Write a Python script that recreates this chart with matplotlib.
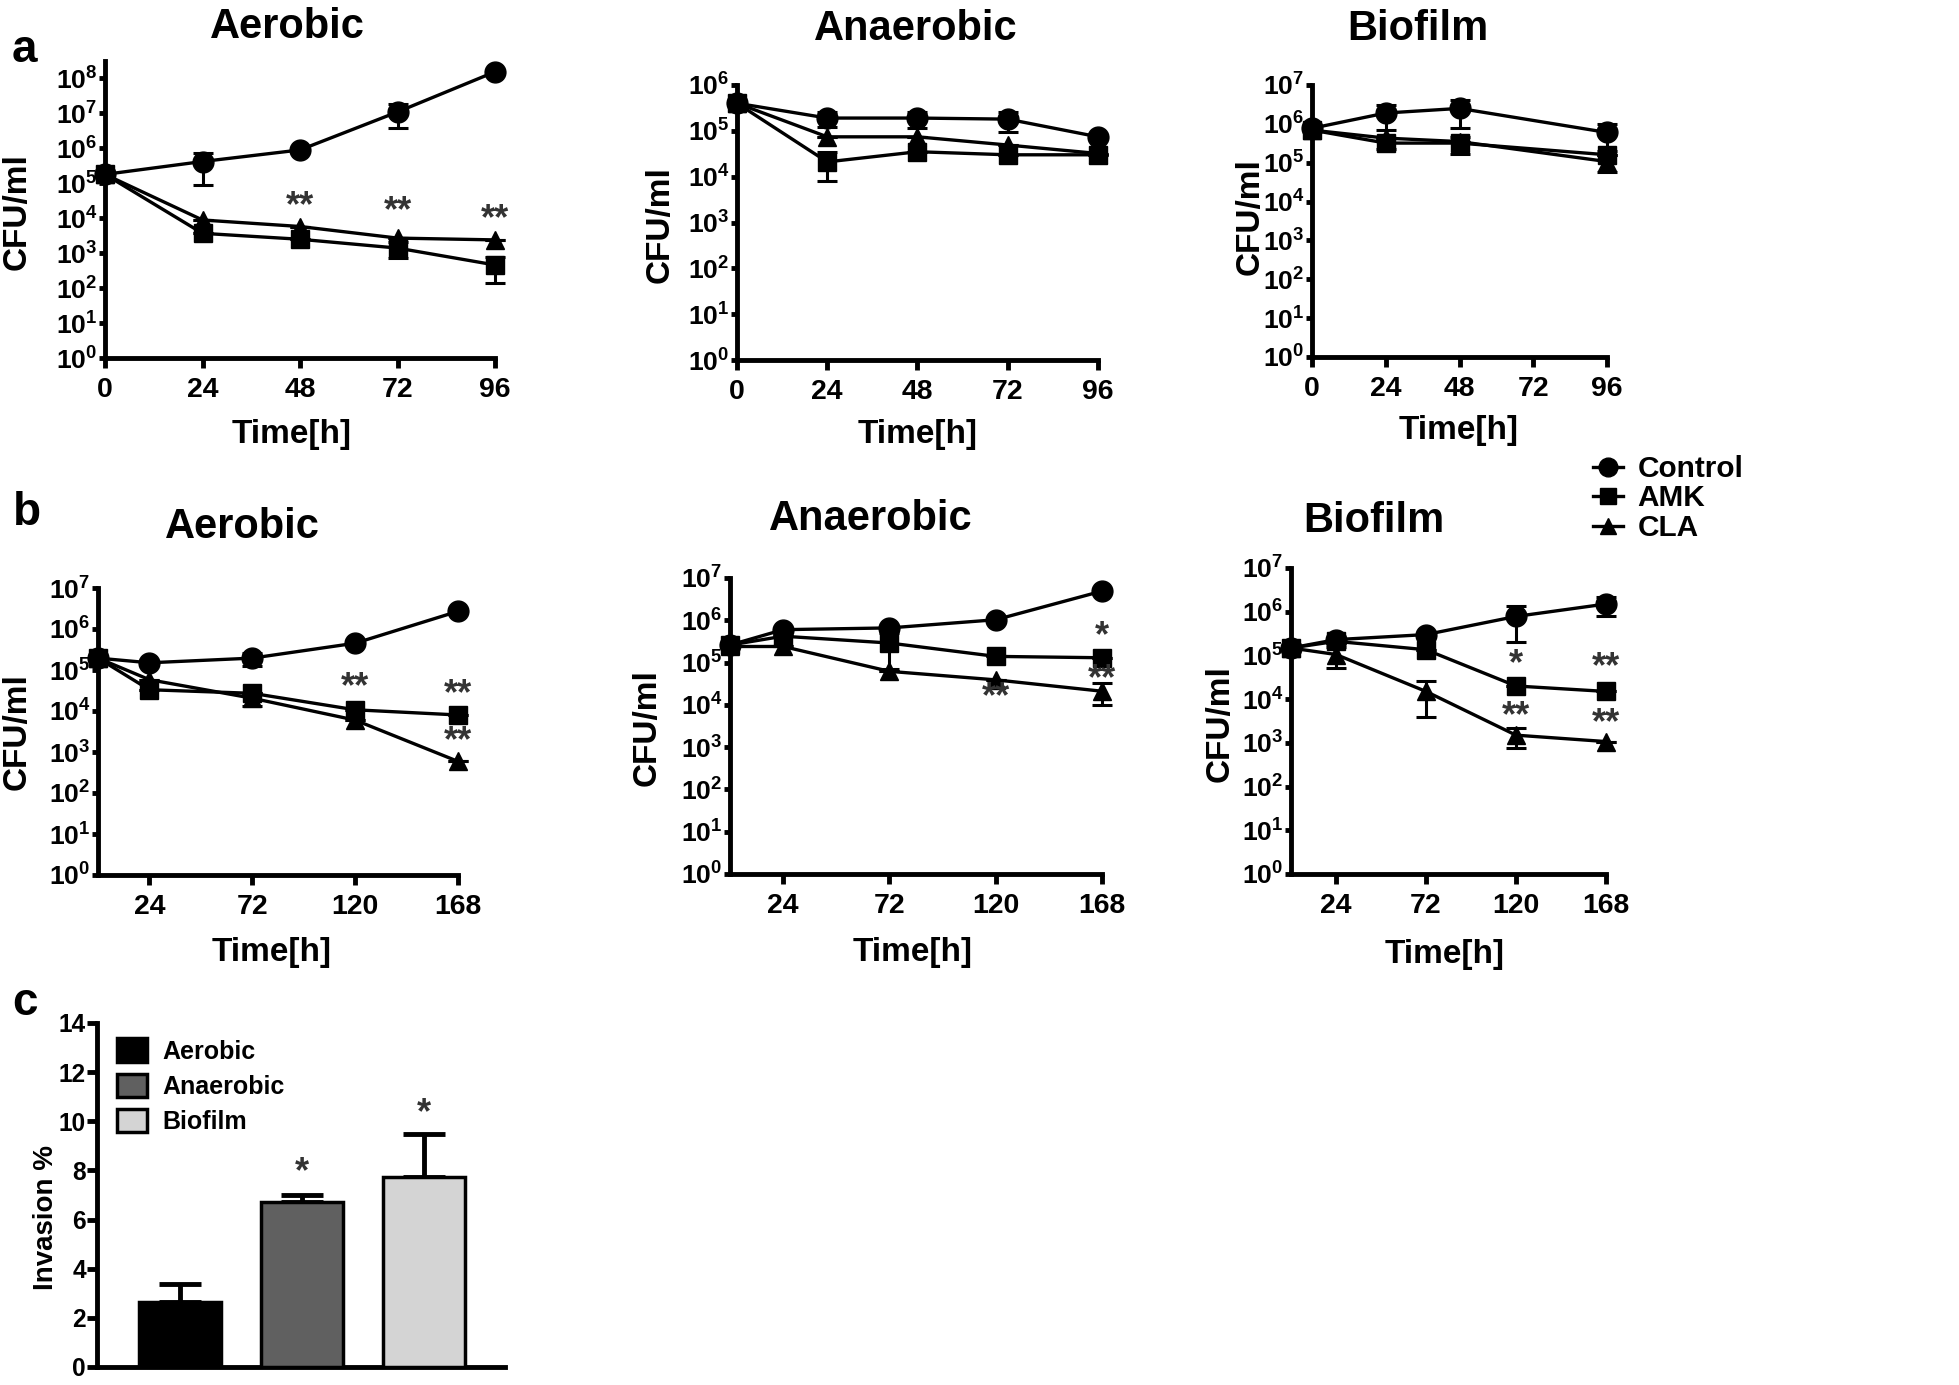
import numpy as np
import matplotlib
matplotlib.use('Agg')
import matplotlib.pyplot as plt
from matplotlib import font_manager
from matplotlib.lines import Line2D

W, H = 1959, 1385
installed = {f.name for f in font_manager.fontManager.ttflist}
HAVE_NARROW = 'Liberation Sans Narrow' in installed
REG = ['Liberation Sans', 'DejaVu Sans']
NARROW = ['Liberation Sans Narrow', 'Liberation Sans', 'DejaVu Sans']
narrow_name = 'Liberation Sans Narrow' if HAVE_NARROW else 'Liberation Sans'
shrink = 1.0 if HAVE_NARROW else 0.93

plt.rcParams['font.family'] = REG
plt.rcParams['font.weight'] = 'bold'
plt.rcParams['axes.labelweight'] = 'bold'
plt.rcParams['mathtext.fontset'] = 'custom'
plt.rcParams['mathtext.rm'] = narrow_name + ':bold'
plt.rcParams['mathtext.bf'] = narrow_name + ':bold'
plt.rcParams['mathtext.it'] = narrow_name + ':bold'
plt.rcParams['mathtext.default'] = 'rm'

# ---------------- data ----------------
series = ['Control', 'AMK', 'CLA']
markers = ['o', 's', '^']
msizes = [15, 13, 13]

time_a = [0, 24, 48, 72, 96]
time_a_bio = [0, 24, 48, 96]
time_b = [0, 24, 72, 120, 168]

# a - Aerobic (CFU/ml mean, SD)
a_aer_ctrl = [1.8e5, 4.2e5, 9.0e5, 1.1e7, 1.55e8]
a_aer_ctrl_sd = [0, 3.3e5, 0, 7.1e6, 0]
a_aer_amk = [1.8e5, 3.7e3, 2.5e3, 1.4e3, 4.6e2]
a_aer_amk_sd = [0, 0, 0, 6.8e2, 3.2e2]
a_aer_cla = [1.8e5, 8.9e3, 5.8e3, 2.7e3, 2.4e3]
a_aer_cla_sd = [0, 0, 0, 0, 0]

# a - Anaerobic
a_ana_ctrl = [4.0e5, 1.9e5, 1.9e5, 1.8e5, 7.4e4]
a_ana_ctrl_sd = [0, 6.7e4, 7.3e4, 8.4e4, 0]
a_ana_amk = [4.0e5, 2.1e4, 3.5e4, 3.0e4, 3.0e4]
a_ana_amk_sd = [0, 1.3e4, 0, 0, 0]
a_ana_cla = [4.0e5, 7.4e4, 7.4e4, 4.9e4, 3.2e4]
a_ana_cla_sd = [0, 0, 0, 0, 0]

# a - Biofilm
a_bio_ctrl = [7.7e5, 1.9e6, 2.5e6, 6.0e5]
a_bio_ctrl_sd = [0, 1.2e6, 1.7e6, 4.0e5]
a_bio_amk = [6.9e5, 3.2e5, 3.2e5, 1.6e5]
a_bio_amk_sd = [0, 1.0e5, 1.5e5, 0]
a_bio_cla = [6.9e5, 4.3e5, 3.5e5, 1.07e5]
a_bio_cla_sd = [0, 0, 0, 4.8e4]

# b - Aerobic
b_aer_ctrl = [1.95e5, 1.5e5, 1.95e5, 4.5e5, 2.7e6]
b_aer_ctrl_sd = [0, 0, 7.0e4, 0, 0]
b_aer_amk = [1.95e5, 3.3e4, 2.7e4, 1.07e4, 8.0e3]
b_aer_amk_sd = [0, 0, 0, 0, 0]
b_aer_cla = [1.95e5, 5.8e4, 2.05e4, 6.0e3, 5.9e2]
b_aer_cla_sd = [0, 0, 7.5e3, 0, 0]

# b - Anaerobic
b_ana_ctrl = [2.6e5, 6.0e5, 6.6e5, 1.03e6, 4.9e6]
b_ana_ctrl_sd = [0, 0, 0, 0, 0]
b_ana_amk = [2.6e5, 4.2e5, 2.9e5, 1.4e5, 1.3e5]
b_ana_amk_sd = [0, 0, 2.2e5, 0, 0]
b_ana_cla = [2.4e5, 2.4e5, 6.2e4, 3.9e4, 2.1e4]
b_ana_cla_sd = [0, 0, 0, 0, 1.1e4]

# b - Biofilm
b_bio_ctrl = [1.48e5, 2.3e5, 3.0e5, 7.8e5, 1.5e6]
b_bio_ctrl_sd = [0, 0, 0, 5.8e5, 6.9e5]
b_bio_amk = [1.48e5, 2.1e5, 1.35e5, 2.0e4, 1.5e4]
b_bio_amk_sd = [0, 0, 0, 0, 0]
b_bio_cla = [1.48e5, 1.05e5, 1.5e4, 1.5e3, 1.07e3]
b_bio_cla_sd = [0, 5.4e4, 1.1e4, 7.4e2, 0]

# significance marks (time, CFU level, text)
a_aer_stars = [(48, 10**4.33, '**'), (72, 10**4.19, '**'), (96, 10**3.95, '**')]
b_aer_stars = [(120, 10**4.56, '**'), (168, 10**4.39, '**'), (168, 10**3.25, '**')]
b_ana_stars = [(168, 10**5.62, '*'), (120, 10**4.16, '**'), (168, 10**4.59, '**')]
b_bio_stars = [(120, 10**4.79, '*'), (120, 10**3.60, '**'),
               (168, 10**4.71, '**'), (168, 10**3.45, '**')]

# c - invasion
conditions = ['Aerobic', 'Anaerobic', 'Biofilm']
invasion = [2.65, 6.7, 7.75]
invasion_sd = [0.72, 0.3, 1.73]
bar_colors = ['#000000', '#606060', '#d4d4d4']
c_stars = [(1, 7.9, '*'), (2, 10.3, '*')]

# ---------------- figure ----------------
fig = plt.figure(figsize=(W / 100, H / 100), dpi=100)


def add_ax(x0, y0, x1, y1):
    return fig.add_axes([x0 / W, 1 - y1 / H, (x1 - x0) / W, (y1 - y0) / H])


def px(x, y):
    return x / W, 1 - y / H


def style_axes(ax):
    for s in ['top', 'right']:
        ax.spines[s].set_visible(False)
    for s in ['left', 'bottom']:
        ax.spines[s].set_linewidth(3.5)
    ax.tick_params(width=3.5, length=7, direction='out', pad=2)


def cfu_panel(box, times, data, top, xticks, stars, ylab_c, xlab_c):
    x0, y0, x1, y1 = box
    ax = add_ax(*box)
    style_axes(ax)
    for (m, sd), mk, ms in zip(data, markers, msizes):
        ax.errorbar(times, m, yerr=sd, fmt='-' + mk, color='black', ms=ms,
                    lw=2.4, elinewidth=2.2, capsize=7, capthick=2.2,
                    clip_on=False, zorder=3)
    ax.set_yscale('log')
    ax.set_ylim(1, top)
    ax.set_xlim(0, xticks[-1])
    ax.set_xticks(xticks)
    ax.set_xticklabels([str(t) for t in xticks])
    ndec = int(np.floor(np.log10(top)))
    ax.set_yticks([10.0 ** k for k in range(ndec + 1)])
    ax.set_yticklabels(['$10^{%d}$' % k for k in range(ndec + 1)])
    ax.minorticks_off()
    ax.tick_params(axis='y', labelsize=20.5 * shrink, length=4, pad=1.5)
    ax.tick_params(axis='x', labelsize=22 * shrink, pad=7, labelfontfamily=NARROW)
    for t, y, s in stars:
        ax.text(t, y, s, ha='center', va='center', fontsize=26,
                color='#333333', zorder=4)
    ax.set_ylabel('CFU/ml', fontsize=24, va='center')
    ax.yaxis.set_label_coords((ylab_c[0] - x0) / (x1 - x0), (y1 - ylab_c[1]) / (y1 - y0))
    ax.set_xlabel('Time[h]', fontsize=24, va='center')
    ax.xaxis.set_label_coords((xlab_c[0] - x0) / (x1 - x0), (y1 - xlab_c[1]) / (y1 - y0))
    return ax


cfu_panel((105, 61, 495, 358), time_a,
          [(a_aer_ctrl, a_aer_ctrl_sd), (a_aer_amk, a_aer_amk_sd), (a_aer_cla, a_aer_cla_sd)],
          10 ** 8.5, [0, 24, 48, 72, 96], a_aer_stars, (17, 212), (292, 435))
cfu_panel((737, 85, 1098, 360), time_a,
          [(a_ana_ctrl, a_ana_ctrl_sd), (a_ana_amk, a_ana_amk_sd), (a_ana_cla, a_ana_cla_sd)],
          1e6, [0, 24, 48, 72, 96], [], (660, 225), (918, 435))
cfu_panel((1312, 85, 1607, 357), time_a_bio,
          [(a_bio_ctrl, a_bio_ctrl_sd), (a_bio_amk, a_bio_amk_sd), (a_bio_cla, a_bio_cla_sd)],
          1e7, [0, 24, 48, 72, 96], [], (1250, 217), (1459, 430))
cfu_panel((98, 588, 458, 875), time_b,
          [(b_aer_ctrl, b_aer_ctrl_sd), (b_aer_amk, b_aer_amk_sd), (b_aer_cla, b_aer_cla_sd)],
          1e7, [24, 72, 120, 168], b_aer_stars, (17, 732), (272, 952))
cfu_panel((730, 578, 1102, 874), time_b,
          [(b_ana_ctrl, b_ana_ctrl_sd), (b_ana_amk, b_ana_amk_sd), (b_ana_cla, b_ana_cla_sd)],
          1e7, [24, 72, 120, 168], b_ana_stars, (647, 728), (913, 952))
cfu_panel((1291, 568, 1606, 874), time_b,
          [(b_bio_ctrl, b_bio_ctrl_sd), (b_bio_amk, b_bio_amk_sd), (b_bio_cla, b_bio_cla_sd)],
          1e7, [24, 72, 120, 168], b_bio_stars, (1220, 724), (1445, 954))

# panel titles and letters
titles = [('Aerobic', 287, 38), ('Anaerobic', 916, 40), ('Biofilm', 1418, 40),
          ('Aerobic', 242, 538), ('Anaerobic', 871, 530), ('Biofilm', 1374, 532)]
for s, x, y in titles:
    fig.text(*px(x, y), s, ha='center', va='baseline', fontsize=30)
for s, x, y in [('a', 12, 62), ('b', 13, 525), ('c', 12, 1015)]:
    fig.text(*px(x, y), s, ha='left', va='baseline', fontsize=33)

# series legend
handles = [Line2D([], [], color='black', marker=mk, ms=ms * 0.9, lw=2.4)
           for mk, ms in zip(markers, msizes)]
fig.legend(handles, series, loc='upper left', bbox_to_anchor=px(1593, 455),
           frameon=False, prop={'family': NARROW, 'size': 23 * shrink, 'weight': 'bold'},
           handlelength=1.0, handletextpad=0.5, labelspacing=0.05,
           borderpad=0, borderaxespad=0)

# ---------------- c: invasion bars ----------------
x0, y0, x1, y1 = 97, 1023, 505, 1367
axc = add_ax(x0, y0, x1, y1)
style_axes(axc)
xpos = np.arange(len(conditions))
bars = axc.bar(xpos, invasion, width=0.67, color=bar_colors, edgecolor='black',
               linewidth=2.5, zorder=3)
for b, lab in zip(bars, conditions):
    b.set_label(lab)
axc.errorbar(xpos, invasion, yerr=[np.zeros(3), invasion_sd], fmt='none',
             ecolor='black', elinewidth=3.5, capsize=15, capthick=3.5, zorder=2)
for xi, y, s in c_stars:
    axc.text(xi, y, s, ha='center', va='center', fontsize=26, color='#333333')
axc.set_xlim(-0.68, 2.66)
axc.set_ylim(0, 14)
axc.set_yticks(range(0, 15, 2))
axc.set_xticks([])
axc.tick_params(axis='y', labelsize=19 * shrink, pad=1, labelfontfamily=NARROW)
axc.set_ylabel('Invasion %', fontsize=20, va='center')
axc.yaxis.set_label_coords((46 - x0) / (x1 - x0), (y1 - 1217) / (y1 - y0))
axc.legend(handles=bars, loc='upper left', bbox_to_anchor=(0.049, 0.955),
           frameon=False, fontsize=18, handlelength=1.2, handleheight=1.05,
           handletextpad=0.6, labelspacing=0.4, borderpad=0, borderaxespad=0)

fig.savefig('out.png', dpi=100)
